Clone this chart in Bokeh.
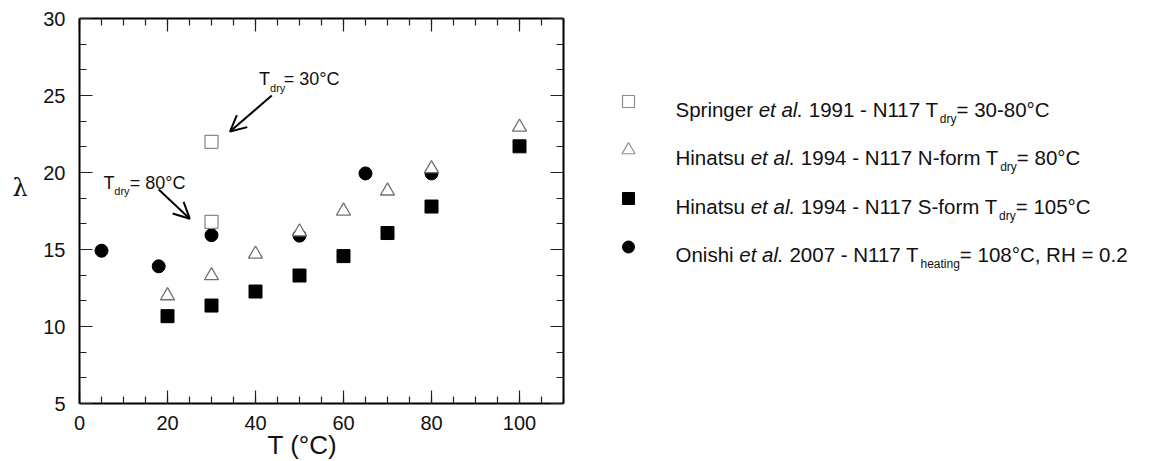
from bokeh.plotting import figure
from bokeh.models import (Range1d, LinearAxis, SingleIntervalTicker, Label, Arrow,
                          OpenHead, CustomJSTickFormatter, Title)
from bokeh.layouts import row
from bokeh.embed import file_html
from bokeh.resources import INLINE

FONT = "Liberation Sans"

# ---------------- data ----------------
springer_T = [30, 30]
springer_lam = [21.99, 16.8]

hin_n_T = [20, 30, 40, 50, 60, 70, 80, 100]
hin_n_lam = [12.0, 13.3, 14.7, 16.15, 17.5, 18.8, 20.25, 22.95]

hin_s_T = [20, 30, 40, 50, 60, 70, 80, 100]
hin_s_lam = [10.67, 11.36, 12.27, 13.31, 14.57, 16.07, 17.79, 21.7]

onishi_T = [5, 18, 30, 50, 65, 80]
onishi_lam = [14.92, 13.91, 15.93, 15.9, 19.94, 19.94]

x_ticks_interval = 20
y_ticks_interval = 5
x_title = "T (°C)"
y_title = "λ"

legend_entries = [
    [("Springer ", "normal"), ("et al.", "italic"), (" 1991 - N117 T", "normal"), ("dry", "sub"), ("= 30-80°C", "normal")],
    [("Hinatsu ", "normal"), ("et al.", "italic"), (" 1994 - N117 N-form T", "normal"), ("dry", "sub"), ("= 80°C", "normal")],
    [("Hinatsu ", "normal"), ("et al.", "italic"), (" 1994 - N117 S-form T", "normal"), ("dry", "sub"), ("= 105°C", "normal")],
    [("Onishi ", "normal"), ("et al.", "italic"), (" 2007 - N117 T", "normal"), ("heating", "sub"), ("= 108°C, RH = 0.2", "normal")],
]

# Arial / Liberation Sans advance widths (per 1000 em)
W = {' ': 278, '-': 333, '=': 584, '.': 278, ',': 278, '°': 400, '(': 333, ')': 333,
     'C': 722, 'H': 722, 'N': 722, 'O': 778, 'R': 722, 'S': 667, 'T': 611,
     'a': 556, 'd': 556, 'e': 556, 'f': 278, 'g': 556, 'h': 556, 'i': 222, 'l': 222,
     'm': 833, 'n': 556, 'o': 556, 'p': 556, 'r': 333, 's': 500, 't': 278, 'u': 556, 'y': 500}
for dch in "0123456789":
    W[dch] = 556


def tw(s, size):
    return sum(W.get(c, 556) for c in s) / 1000.0 * size


H = 461
B_TOP, B_BOT = 18, 58          # frame spans page y 18 .. 403
FR_TOP, FR_BOT = B_TOP, H - B_BOT


def side_fig(w):
    # frame vertically aligned with the main plot; y range = page pixel rows
    f = figure(width=w, height=H, output_backend="svg", toolbar_location=None, title=None,
               x_range=Range1d(0, w), y_range=Range1d(FR_BOT, FR_TOP),
               min_border_left=0, min_border_right=0,
               min_border_top=B_TOP, min_border_bottom=B_BOT,
               x_axis_location=None, y_axis_location=None)
    f.outline_line_color = None
    f.grid.visible = False
    return f


# ---------------- main figure ----------------
P_W = 548
p = figure(width=P_W, height=H, output_backend="svg", toolbar_location=None, title=None,
           x_range=Range1d(0, 110), y_range=Range1d(5, 30),
           min_border_left=39, min_border_right=25, min_border_top=B_TOP, min_border_bottom=B_BOT,
           x_axis_location=None, y_axis_location=None)
p.outline_line_color = None
p.grid.visible = False


def style_axis(ax, labels):
    ax.axis_line_width = 2
    ax.axis_line_color = "black"
    ax.major_tick_in = 13
    ax.major_tick_out = 0
    ax.minor_tick_in = 7
    ax.minor_tick_out = 0
    ax.major_tick_line_width = 1.2
    ax.minor_tick_line_width = 1.2
    ax.major_tick_line_color = "#222222"
    ax.minor_tick_line_color = "#222222"
    if labels:
        ax.major_label_text_font = FONT
        ax.major_label_text_font_size = "20px"
        ax.major_label_text_color = "#111111"
    else:
        ax.formatter = CustomJSTickFormatter(code="return ''")
        ax.major_label_standoff = 0
        ax.major_label_text_font_size = "2px"


xb = LinearAxis(ticker=SingleIntervalTicker(interval=x_ticks_interval, num_minor_ticks=4))
style_axis(xb, True)
xb.major_label_standoff = 12
xt = LinearAxis(ticker=SingleIntervalTicker(interval=x_ticks_interval, num_minor_ticks=4))
style_axis(xt, False)
yl = LinearAxis(ticker=SingleIntervalTicker(interval=y_ticks_interval, num_minor_ticks=3))
style_axis(yl, True)
yl.major_label_standoff = 14
yr = LinearAxis(ticker=SingleIntervalTicker(interval=y_ticks_interval, num_minor_ticks=3))
style_axis(yr, False)
p.add_layout(xb, "below")
p.add_layout(xt, "above")
p.add_layout(yl, "left")
p.add_layout(yr, "right")

# x-axis title as a side-panel title (not clipped), shifted like the reference
p.add_layout(Title(text=x_title, align="left", offset=188, standoff=-6, vertical_align="top",
                   text_font=FONT, text_font_size="26px", text_font_style="normal",
                   text_color="#111111"), "below")

# markers
p.scatter(onishi_T, onishi_lam, marker="circle", size=13, fill_color="black", line_color="black")
p.scatter(hin_s_T, hin_s_lam, marker="square", size=13, fill_color="black", line_color="black")
p.scatter(hin_n_T, hin_n_lam, marker="triangle", size=14, fill_color="white",
          line_color="#707070", line_width=1.3)
p.scatter(springer_T, springer_lam, marker="square", size=13, fill_color=None,
          line_color="#8c8c8c", line_width=1.3)

# annotations
AF, ASF = 18, 11


def tdry_label(x_T, y_base, x_sub, y_sub, x_eq, rest):
    p.add_layout(Label(x=x_T, y=y_base, text="T", text_font=FONT, text_font_size=f"{AF}px",
                       text_color="#111111", text_baseline="alphabetic"))
    p.add_layout(Label(x=x_sub, y=y_sub, text="dry", text_font=FONT, text_font_size=f"{ASF}px",
                       text_color="#111111", text_baseline="alphabetic"))
    p.add_layout(Label(x=x_eq, y=y_base, text=rest, text_font=FONT, text_font_size=f"{AF}px",
                       text_color="#111111", text_baseline="alphabetic"))


tdry_label(40.8, 26.1, 43.3, 25.5, 46.4, "= 30°C")
tdry_label(5.47, 19.35, 7.9, 18.83, 11.4, "= 80°C")

p.add_layout(Arrow(end=OpenHead(size=16, line_width=2, line_color="black"),
                   x_start=43.7, y_start=25.0, x_end=34.2, y_end=22.66,
                   line_width=2, line_color="black"))
p.add_layout(Arrow(end=OpenHead(size=16, line_width=2, line_color="black"),
                   x_start=18.0, y_start=18.9, x_end=25.06, y_end=17.0,
                   line_width=2, line_color="black"))

# ---------------- y title strip (left) ----------------
LAM_W = 40
lam = side_fig(LAM_W)
lam.add_layout(Label(x=12, y=187, text=y_title, text_font="DejaVu Serif", text_font_size="24px",
                     text_color="#111111", text_baseline="alphabetic"))

# ---------------- legend figure ----------------
LG_W = 1172 - LAM_W - P_W
lg = side_fig(LG_W)

LF, SF = 20.5, 12
mx, tx0 = 40, 87
centers = [101, 149.5, 198, 246.5]
lg.scatter([mx], [centers[0]], marker="square", size=12, fill_color=None, line_color="#8c8c8c", line_width=1.2)
lg.scatter([mx], [centers[1]], marker="triangle", size=13, fill_color="white", line_color="#8c8c8c", line_width=1.2)
lg.scatter([mx], [centers[2]], marker="square", size=12, fill_color="black", line_color="black")
lg.scatter([mx], [centers[3]], marker="circle", size=12, fill_color="black", line_color="black")

for cy, runs in zip(centers, legend_entries):
    x = tx0
    for txt, kind in runs:
        size = SF if kind == "sub" else LF
        yb = cy + 17 if kind == "sub" else cy + 7.5
        lead = len(txt) - len(txt.lstrip(" "))
        x_draw = x + tw(" " * lead, size)
        lg.add_layout(Label(x=x_draw, y=yb, text=txt.strip(" "), text_font=FONT,
                            text_font_size=f"{size}px",
                            text_font_style="italic" if kind == "italic" else "normal",
                            text_color="#111111", text_baseline="alphabetic"))
        x += tw(txt, size)

layout = row(lam, p, lg)
open("out.html", "w").write(file_html(layout, INLINE))
